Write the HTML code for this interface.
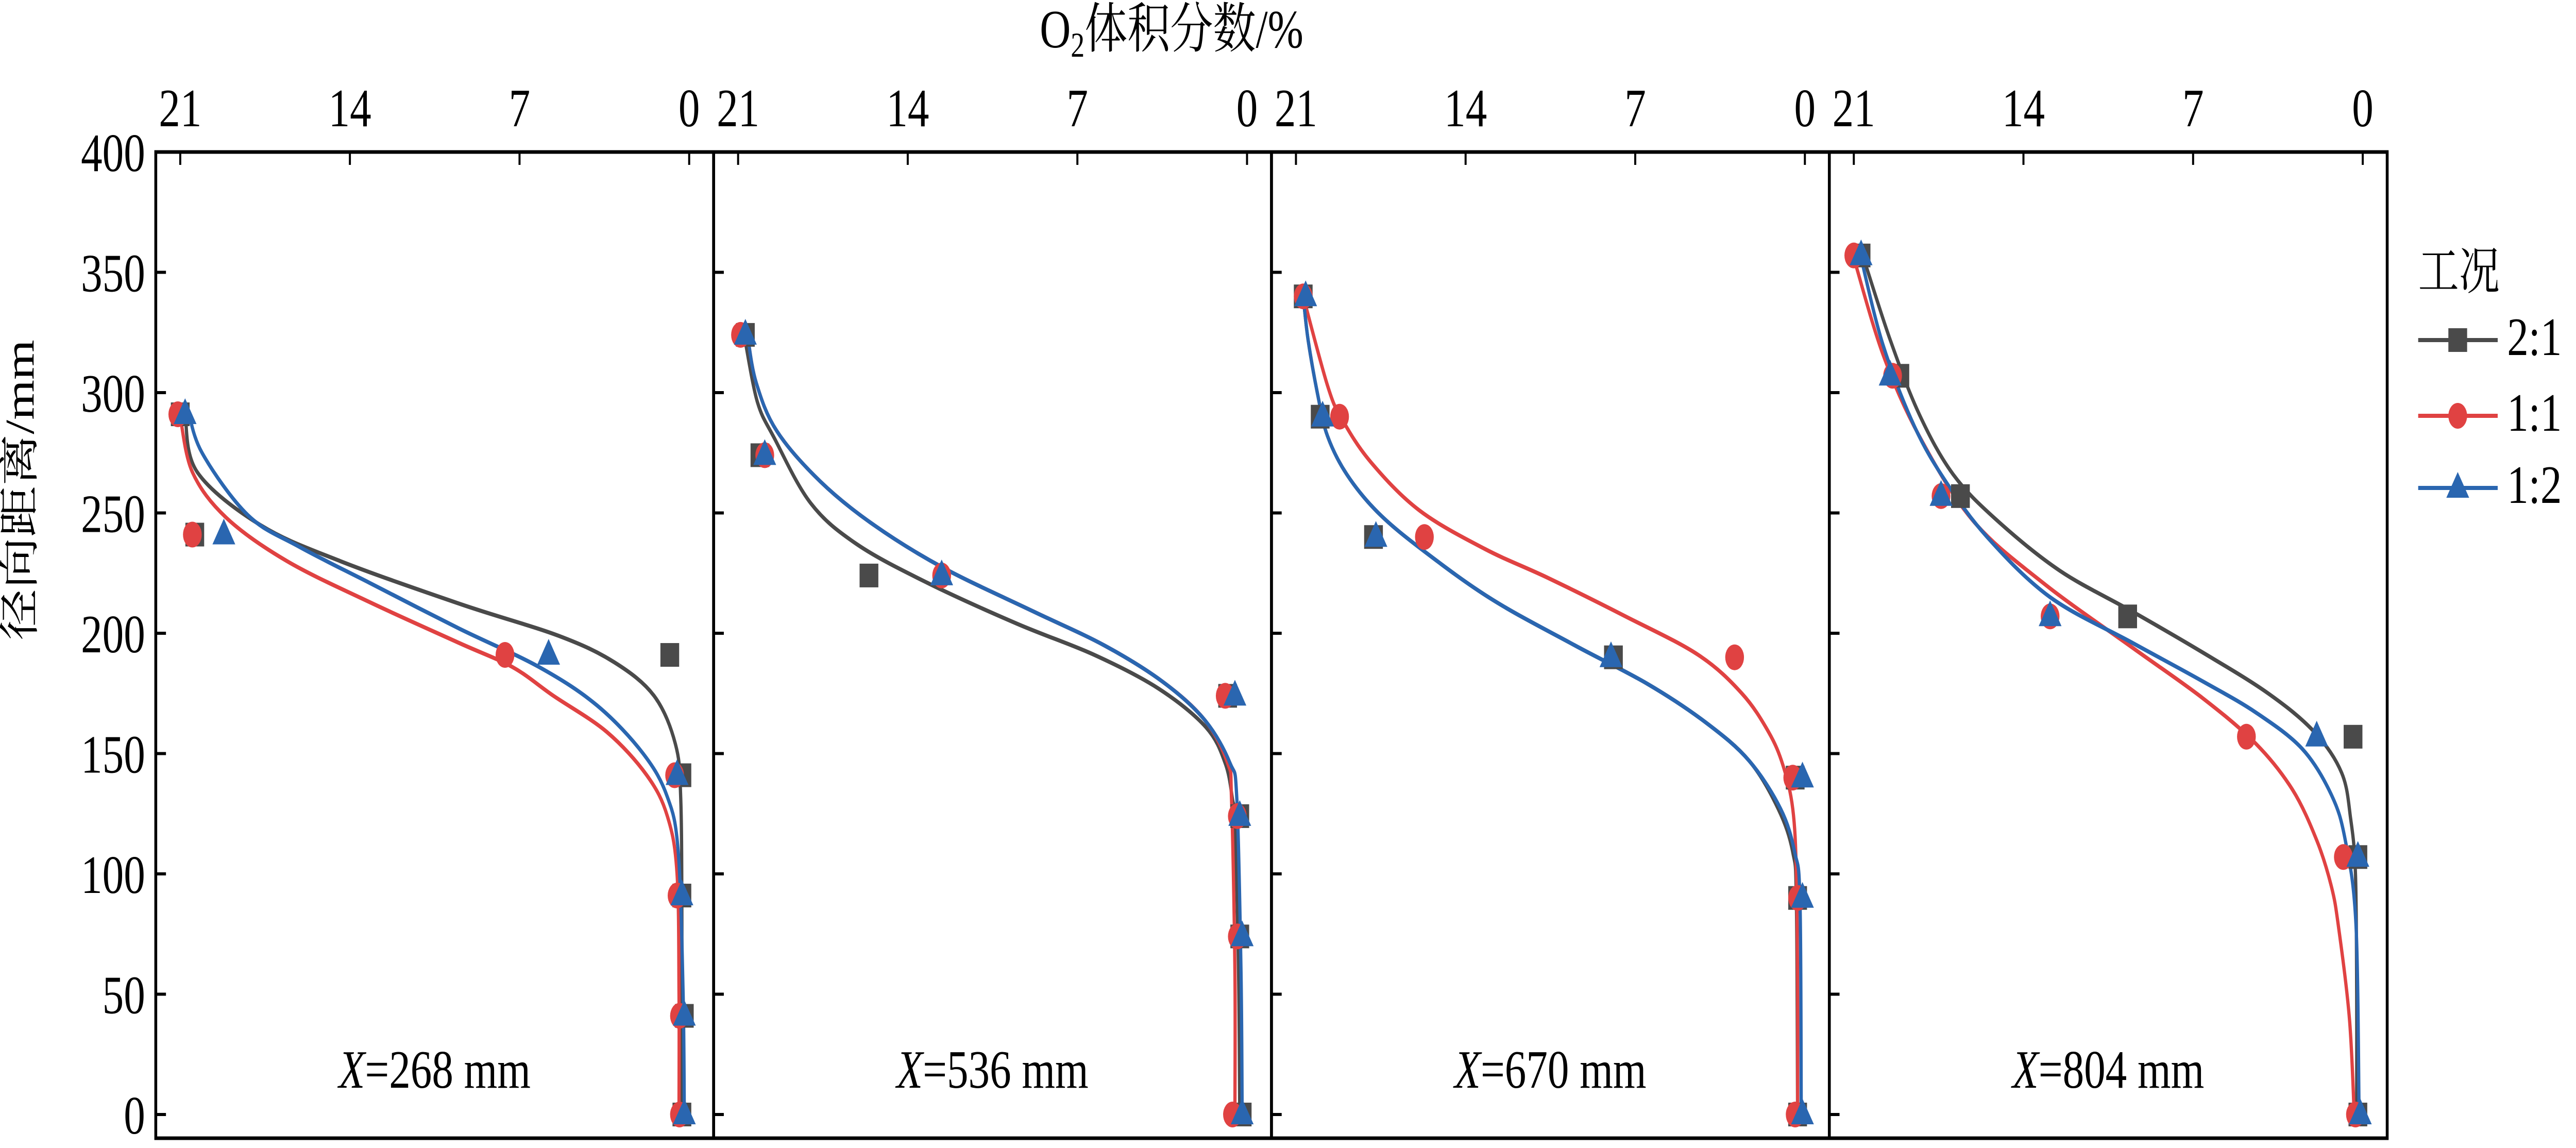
<!DOCTYPE html>
<html><head><meta charset="utf-8"><style>
html,body{margin:0;padding:0;background:#fff;width:100%;height:100%;overflow:hidden;}
svg{display:block;position:absolute;left:0;top:0;width:100vw;height:100vh;}
text{font-family:"Liberation Serif","Noto Serif CJK SC",serif;fill:#000;}
</style></head><body>
<svg id="chart" viewBox="0 0 6317 2228" preserveAspectRatio="none" xmlns="http://www.w3.org/2000/svg">
<text x="2873" y="92" font-size="105" text-anchor="middle">O<tspan font-size="68" dy="18">2</tspan><tspan dy="-18">体积分数/%</tspan></text>
<text x="0" y="0" font-size="100" text-anchor="middle" transform="translate(82,951) rotate(-90)">径向距离/mm</text>
<g id="plots"></g>
<g>
<text x="5930" y="561" font-size="100">工况</text>
<g>
<line x1="5930" y1="660" x2="6125" y2="660" stroke="#4a4a4a" stroke-width="8"/>
<rect x="6004" y="637" width="46" height="46" fill="#4a4a4a"/>
<text x="6148" y="689" font-size="105">2:1</text></g>
<g>
<line x1="5930" y1="807" x2="6125" y2="807" stroke="#e04242" stroke-width="8"/>
<ellipse cx="6027" cy="807" rx="23" ry="25" fill="#e04242"/>
<text x="6148" y="836" font-size="105">1:1</text></g>
<g>
<line x1="5930" y1="947" x2="6125" y2="947" stroke="#2a66b0" stroke-width="8"/>
<polygon points="6027,916 6055,966 5999,966" fill="#2a66b0"/>
<text x="6148" y="976" font-size="105">1:2</text></g>
</g>
</svg>
<script>
const panelPositions = ['268','536','670','804'];
const xTicks = [21,14,7,0];
const yTicks = [400,350,300,250,200,150,100,50,0];
const markerY = [
 [291,241,191,141,91,41,0],
 [324,274,224,174,124,74,0],
 [340,290,240,190,140,90,0],
 [357,307,257,207,157,107,0]];
const pts21 = [
 [21.0,20.4,0.8,0.3,0.3,0.2,0.3],
 [20.7,20.1,15.6,0.8,0.3,0.3,0.2],
 [20.7,20.0,17.8,7.9,0.4,0.3,0.3],
 [20.7,19.1,16.6,9.7,0.4,0.2,0.2]];
const pts11 = [
 [21.1,20.5,7.6,0.6,0.5,0.4,0.4],
 [20.9,19.9,12.6,0.9,0.4,0.4,0.6],
 [20.7,19.2,15.7,2.9,0.5,0.3,0.4],
 [21.0,19.4,17.4,12.9,4.8,0.8,0.3]];
const pts12 = [
 [20.8,19.2,5.8,0.5,0.3,0.2,0.2],
 [20.7,19.9,12.6,0.5,0.3,0.2,0.2],
 [20.6,19.9,17.7,8.0,0.1,0.1,0.1],
 [20.7,19.5,17.4,12.9,1.9,0.2,0.1]];
// fitted curve samples (mm, O2 %)
const fitY21 = [
 [291,267,245,230,212,199,188,174,154,132,80,0],
 [321,296,281,254,237,221,204,191,177,161,146,131,121,60,0],
 [340,322,299,282,266,250,234,214,195,179,163,147,127,109,88,0],
 [356,322,291,266,247,226,209,192,175,159,142,123,100,50,0]];
const fitV21 = [
 [20.8,20.3,17.7,14.4,9.4,5.4,3.1,1.45,0.57,0.35,0.3,0.3],
 [20.7,20.2,19.5,18.0,16.1,13.2,9.5,6.3,3.65,1.7,0.9,0.6,0.5,0.35,0.3],
 [20.7,20.5,20.1,19.7,18.9,17.6,15.7,12.9,9.5,6.5,4.1,2.3,1.1,0.5,0.35,0.3],
 [20.6,19.5,18.3,16.9,15.1,12.5,9.5,6.6,3.9,2.0,0.87,0.5,0.3,0.25,0.25]];
const fitY11 = [
 [290,267,248,230,213,196,186,174,159,141,124,100,50,0],
 [323,304,284,263,245,227,209,195,180,164,146,131,60,0],
 [340,303,289,271,251,235,223,207,191,175,159,145,127,100,50,0],
 [356,316,282,247,221,194,173,154,135,114,95,78,40,0]];
const fitV11 = [
 [21.0,20.5,19.1,16.6,13.2,9.5,7.3,5.6,3.4,1.75,0.9,0.5,0.42,0.42],
 [20.6,20.25,19.4,17.6,15.4,12.5,8.8,5.9,3.5,1.75,0.8,0.64,0.5,0.5],
 [20.7,19.7,19.1,17.9,15.9,13.2,10.6,7.4,4.4,2.6,1.5,0.9,0.5,0.35,0.3,0.3],
 [21.0,19.8,18.3,16.1,13.2,9.5,6.6,4.4,2.9,1.9,1.3,1.0,0.55,0.35]];
const fitY12 = [
 [294,275,249,236,221,202,186,170,150,132,109,50,0],
 [323,304,284,263,245,227,209,195,180,164,146,131,60,0],
 [340,322,299,282,266,250,234,214,195,179,163,147,127,109,88,0],
 [356,320,286,263,240,215,196,180,167,152,133,114,79,0]];
const fitV12 = [
 [20.7,20.1,18.2,16.1,13.2,9.5,6.2,3.8,1.9,0.9,0.45,0.25,0.2],
 [20.6,20.25,19.4,17.6,15.4,12.5,8.8,5.9,3.5,1.75,0.7,0.42,0.25,0.2],
 [20.7,20.5,20.1,19.7,18.9,17.6,15.7,12.9,9.5,6.5,4.1,2.3,1.0,0.42,0.2,0.15],
 [20.7,19.8,18.5,17.2,15.5,12.9,9.5,6.6,4.4,2.5,1.3,0.72,0.28,0.15]];

const NS='http://www.w3.org/2000/svg';
const panelLeft0=382, panelW=1368, frameTop=295, frameBottom=2209;
const colors={g:'#4a4a4a',r:'#e04242',b:'#2a66b0'};
function xScale(p,v){return panelLeft0+p*panelW+60+(21-v)*59.43;}
function yScale(mm){return 2163-mm*4.67;}
function mk(tag,attrs,parent){const e=document.createElementNS(NS,tag);for(const k in attrs)e.setAttribute(k,attrs[k]);parent.appendChild(e);return e;}
function smoothPath(xs,ys){
  let d='M'+xs[0].toFixed(1)+','+ys[0].toFixed(1);
  for(let i=0;i<xs.length-1;i++){
    const x0=xs[Math.max(i-1,0)],y0=ys[Math.max(i-1,0)],x1=xs[i],y1=ys[i],x2=xs[i+1],y2=ys[i+1],x3=xs[Math.min(i+2,xs.length-1)],y3=ys[Math.min(i+2,xs.length-1)];
    const c1x=x1+(x2-x0)/6,c1y=y1+(y2-y0)/6,c2x=x2-(x3-x1)/6,c2y=y2-(y3-y1)/6;
    d+=' C'+c1x.toFixed(1)+','+c1y.toFixed(1)+' '+c2x.toFixed(1)+','+c2y.toFixed(1)+' '+x2.toFixed(1)+','+y2.toFixed(1);
  }
  return d;
}
const root=document.getElementById('plots');
for(let p=0;p<4;p++){
  const g=mk('g',{},root);
  
  
  const L=panelLeft0+p*panelW;
  const frame=mk('rect',{x:L,y:frameTop,width:panelW,height:frameBottom-frameTop,fill:'none',stroke:'#000','stroke-width':7},g);
  
  
  xTicks.forEach(t=>{
    const x=xScale(p,t);
    const tk=mk('line',{x1:x,y1:frameTop,x2:x,y2:frameTop+25,stroke:'#000','stroke-width':5},g);
    
    
    const tl=mk('text',{x:x,y:245,'font-size':105,'text-anchor':'middle'},g);
    tl.textContent=t;
    
    
  });
  yTicks.forEach(t=>{
    const y=yScale(t);
    if(t<400){
      const tk=mk('line',{x1:L,y1:y,x2:L+25,y2:y,stroke:'#000','stroke-width':6},g);
      
      
    }
    if(p===0){
      const tl=mk('text',{x:356,y:y+37,'font-size':105,'text-anchor':'end'},g);
      tl.textContent=t;
      
      
    }
  });
  const series=[[fitY21,fitV21,pts21,'g','2-1'],[fitY11,fitV11,pts11,'r','1-1'],[fitY12,fitV12,pts12,'b','1-2']];
  series.forEach(s=>{
    const xs=s[1][p].map(v=>xScale(p,v)), ys=s[0][p].map(yScale);
    const path=mk('path',{d:smoothPath(xs,ys),fill:'none',stroke:colors[s[3]],'stroke-width':8,'stroke-linejoin':'round'},g);
    
    
  });
  series.forEach(s=>{
    s[2][p].forEach((v,i)=>{
      const cx=xScale(p,v), cy=yScale(markerY[p][i]);
      let m;
      if(s[3]==='g') m=mk('rect',{x:cx-23,y:cy-23,width:46,height:46,fill:colors.g},g);
      else if(s[3]==='r') m=mk('ellipse',{cx:cx,cy:cy,rx:23,ry:25,fill:colors.r},g);
      else m=mk('polygon',{points:cx+','+(cy-31)+' '+(cx+28)+','+(cy+19)+' '+(cx-28)+','+(cy+19),fill:colors.b},g);
      
      
    });
  });
  const lab=mk('text',{x:L+panelW/2,y:2111,'font-size':105,'text-anchor':'middle'},g);
  
  
  const it=mk('tspan',{'font-style':'italic'},lab); it.textContent='X';
  const rest=mk('tspan',{},lab); rest.textContent='='+panelPositions[p]+' mm';
}
</script>
</body></html>
